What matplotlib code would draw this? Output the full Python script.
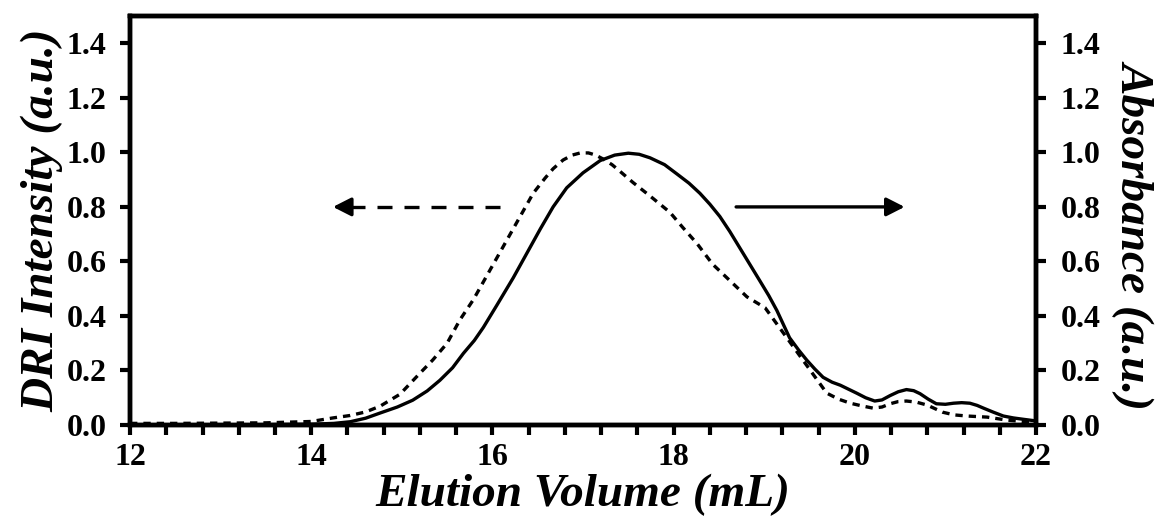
import matplotlib
matplotlib.use("Agg")
import matplotlib.pyplot as plt
from matplotlib.ticker import MultipleLocator, FormatStrFormatter

plt.rcParams['font.family'] = ['Liberation Serif', 'DejaVu Serif']

# DRI intensity (dashed, left axis)
dri_x = [12.0, 12.5, 13.0, 13.5, 14.0, 14.24, 14.43, 14.6, 14.76, 14.98, 15.20, 15.34,
         15.50, 15.64, 15.79, 16.01, 16.23, 16.45, 16.58, 16.67, 16.78, 16.88, 16.97,
         17.06, 17.14, 17.22, 17.32, 17.41, 17.55, 17.74, 17.96, 18.10, 18.26, 18.43,
         18.62, 18.81, 19.01, 19.25, 19.51, 19.69, 19.82, 19.95, 20.08, 20.20, 20.30,
         20.39, 20.48, 20.57, 20.68, 20.80, 20.97, 21.10, 21.24, 21.46, 21.68, 21.93, 22.0]
dri_y = [0.006, 0.006, 0.007, 0.008, 0.013, 0.026, 0.035, 0.048, 0.069, 0.113, 0.19, 0.238,
         0.30, 0.385, 0.46, 0.59, 0.72, 0.85, 0.905, 0.94, 0.972, 0.99, 0.998,
         0.998, 0.99, 0.976, 0.955, 0.93, 0.89, 0.84, 0.78, 0.725, 0.665, 0.59,
         0.53, 0.47, 0.43, 0.32, 0.20, 0.117, 0.095, 0.08, 0.07, 0.062, 0.066,
         0.078, 0.086, 0.088, 0.084, 0.073, 0.047, 0.037, 0.033, 0.029, 0.018, 0.011, 0.01]

# Absorbance (solid, right axis)
abs_x = [12.0, 13.0, 14.0, 14.25, 14.43, 14.6, 14.76, 14.95, 15.12, 15.28, 15.42, 15.56,
         15.68, 15.80, 15.90, 16.05, 16.23, 16.38, 16.53, 16.67, 16.82, 17.00, 17.19,
         17.35, 17.50, 17.62, 17.74, 17.90, 18.04, 18.17, 18.29, 18.40, 18.51, 18.62,
         18.73, 18.84, 18.95, 19.05, 19.14, 19.28, 19.38, 19.47, 19.56, 19.65, 19.75,
         19.84, 20.02, 20.12, 20.22, 20.30, 20.39, 20.48, 20.57, 20.65, 20.72, 20.81,
         20.90, 21.00, 21.09, 21.18, 21.27, 21.35, 21.42, 21.53, 21.64, 21.75, 21.86, 22.0]
abs_y = [0.0, 0.0, 0.003, 0.006, 0.012, 0.025, 0.044, 0.066, 0.091, 0.125, 0.164, 0.21,
         0.263, 0.31, 0.358, 0.44, 0.54, 0.63, 0.72, 0.80, 0.87, 0.925, 0.97,
         0.99, 0.997, 0.993, 0.98, 0.955, 0.92, 0.887, 0.85, 0.81, 0.765, 0.71,
         0.65, 0.59, 0.53, 0.475, 0.42, 0.32, 0.275, 0.238, 0.205, 0.175, 0.157,
         0.146, 0.117, 0.1, 0.088, 0.092, 0.108, 0.122, 0.13, 0.126, 0.115, 0.095,
         0.078, 0.076, 0.08, 0.082, 0.08, 0.072, 0.062, 0.047, 0.033, 0.026, 0.021, 0.015]

xlabel = "Elution Volume (mL)"
ylabel_left = "DRI Intensity (a.u.)"
ylabel_right = "Absorbance (a.u.)"

# arrow annotations (x start, x end, y)
dri_arrow = (16.08, 14.24, 0.8)
abs_arrow = (18.69, 20.55, 0.8)

fig = plt.figure(figsize=(11.57, 5.18), dpi=100)
ax = fig.add_axes([0.1124, 0.1795, 0.7830, 0.7895])
ax2 = ax.twinx()

lw = 2.4
ax.plot(dri_x, dri_y, color='black', lw=lw, linestyle=(0, (2.2, 1.8)), zorder=3)
ax2.plot(abs_x, abs_y, color='black', lw=lw, linestyle='-', zorder=3)

for a in (ax, ax2):
    a.set_xlim(12, 22)
    a.set_ylim(0, 1.5)
    for s in a.spines.values():
        s.set_linewidth(3.2)

ax.xaxis.set_major_locator(MultipleLocator(2))
ax.xaxis.set_minor_locator(MultipleLocator(0.4))
ax.yaxis.set_major_formatter(FormatStrFormatter('%.1f'))
ax2.yaxis.set_major_formatter(FormatStrFormatter('%.1f'))
yt = [0.0, 0.2, 0.4, 0.6, 0.8, 1.0, 1.2, 1.4]
ax.set_yticks(yt)
ax2.set_yticks(yt)

ax.tick_params(axis='x', which='major', direction='out', length=7, width=3, pad=6, labelsize=23)
ax.tick_params(axis='x', which='minor', direction='out', length=7, width=3)
ax.tick_params(axis='y', which='major', direction='out', length=7, width=3, pad=10, labelsize=23)
ax2.tick_params(axis='y', which='major', direction='out', length=7, width=3, pad=11, labelsize=23)
for lab in ax.get_xticklabels() + ax.get_yticklabels() + ax2.get_yticklabels():
    lab.set_fontweight('bold')

ax.set_xlabel(xlabel, fontsize=34, fontweight='bold', fontstyle='italic', labelpad=1)
ax.set_ylabel(ylabel_left, fontsize=34, fontweight='bold', fontstyle='italic', labelpad=2)
fig.text(0.981, 0.548, ylabel_right, fontsize=34, fontstyle='italic', fontweight='bold',
         rotation=270, ha='center', va='center')

# dashed arrow (points to left axis)
x0, x1, ya = dri_arrow
ax.plot([x0, x1 + 0.18], [ya, ya], color='black', lw=2.4, linestyle=(0, (4.5, 3.6)),
        solid_capstyle='butt', dash_capstyle='butt')
ax.annotate('', xy=(x1, ya), xytext=(x1 + 0.2, ya),
            arrowprops=dict(arrowstyle='-|>,head_length=0.55,head_width=0.28',
                            color='black', lw=2.4, mutation_scale=20, shrinkA=0, shrinkB=0))
# solid arrow (points to right axis)
x0, x1, ya = abs_arrow
ax.annotate('', xy=(x1, ya), xytext=(x0, ya),
            arrowprops=dict(arrowstyle='-|>,head_length=0.55,head_width=0.28',
                            color='black', lw=2.4, mutation_scale=20, shrinkA=0, shrinkB=0))

fig.savefig('out.png', dpi=100)
